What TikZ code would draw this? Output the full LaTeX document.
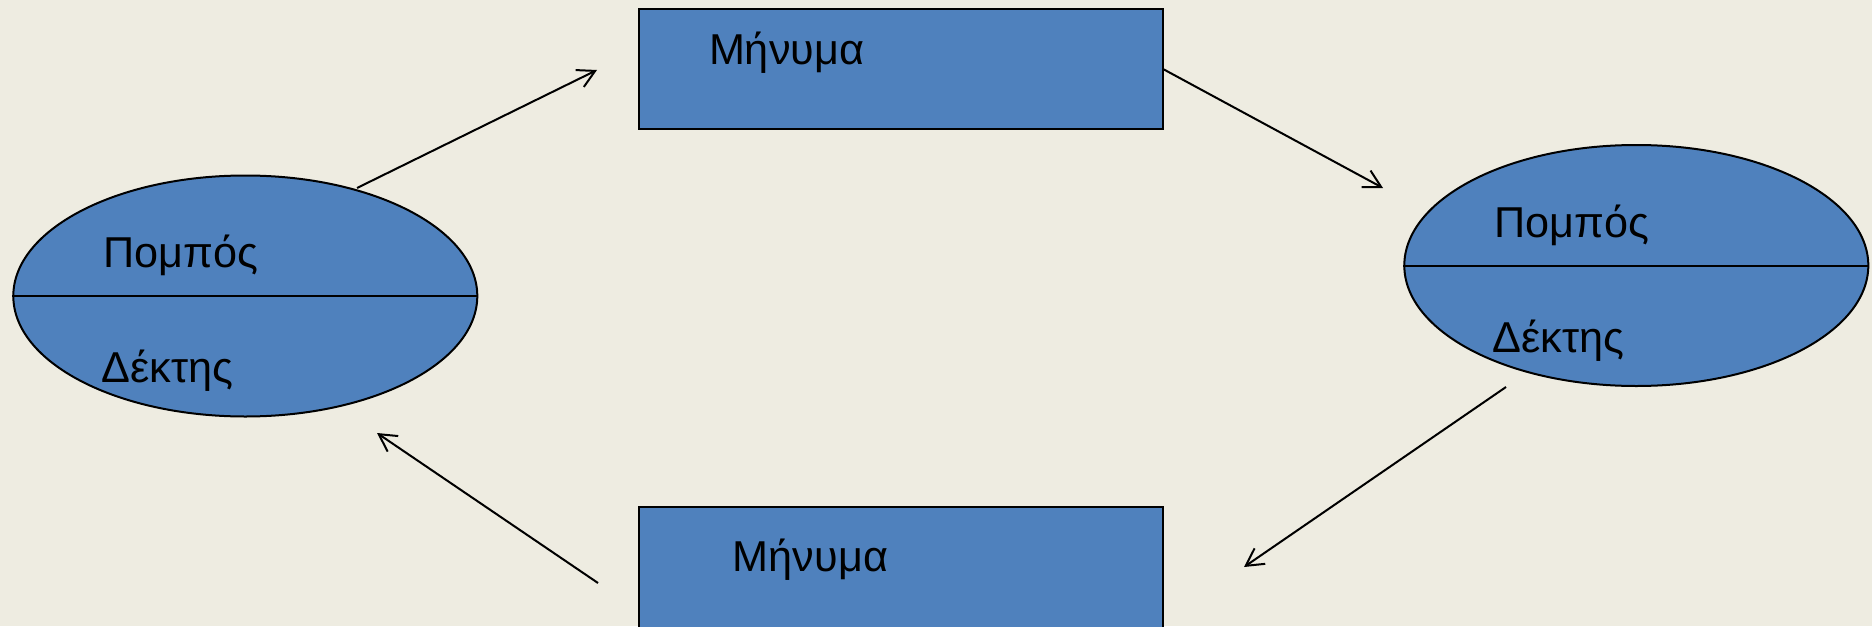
\documentclass[tikz,border=0pt]{standalone}
\usepackage{fontspec}
\setmainfont{Liberation Sans}
\usetikzlibrary{shapes.geometric,arrows.meta}
\definecolor{bgc}{RGB}{238,236,225}
\definecolor{boxc}{RGB}{79,129,189}
\tikzset{
  ell/.style={ellipse, draw=black, line width=1pt, fill=boxc, inner sep=0pt,
    minimum width=232pt, minimum height=120.5pt},
  msg/.style={rectangle, draw=black, line width=1pt, fill=boxc, inner sep=0pt,
    minimum width=262pt, minimum height=60.3pt},
  lbl/.style={anchor=base west, inner sep=0pt, font=\fontsize{21.6pt}{26pt}\selectfont},
  arr/.style={line width=1pt, -{Straight Barb[length=8.6pt,width=9.4pt]}}
}
\begin{document}
\begin{tikzpicture}[x=0.5pt,y=-0.5pt]
\fill[bgc] (0,0) rectangle (1872,626);
\useasboundingbox (0,0) rectangle (1872,626);
\clip (0,0) rectangle (1872,626);
% ellipses
\node[ell] (le) at (245.3,296) {};
\draw[line width=1pt] (le.west) -- (le.east);
\node[ell] (re) at (1636.3,265.5) {};
\draw[line width=1pt] (re.west) -- (re.east);
% message boxes
\node[msg] (tm) at (900.5,69) {};
\node[msg,minimum height=80pt] (bm) at (900.5,587) {};
% labels
\node[lbl] (lp) at (103,267.3) {Πομπός};
\node[lbl] (ld) at (101,382) {Δέκτης};
\node[lbl] (rp) at (1494,237.3) {Πομπός};
\node[lbl] (rd) at (1492,352) {Δέκτης};
\node[lbl] (tt) at (708.6,64.3) {Μήνυμα};
\node[lbl] (bt) at (732.5,571.7) {Μήνυμα};
% connector ends
\coordinate (a1s) at (357,188);
\coordinate (a1e) at (597,70);
\coordinate (a2s) at (1163,69);
\coordinate (a2e) at (1383,188);
\coordinate (a3s) at (1506,387);
\coordinate (a3e) at (1244,567);
\coordinate (a4s) at (598,583);
\coordinate (a4e) at (377,433);
\draw[arr] (a1s) -- (a1e);
\draw[arr] (a2s) -- (a2e);
\draw[arr] (a3s) -- (a3e);
\draw[arr] (a4s) -- (a4e);
\end{tikzpicture}
\end{document}
